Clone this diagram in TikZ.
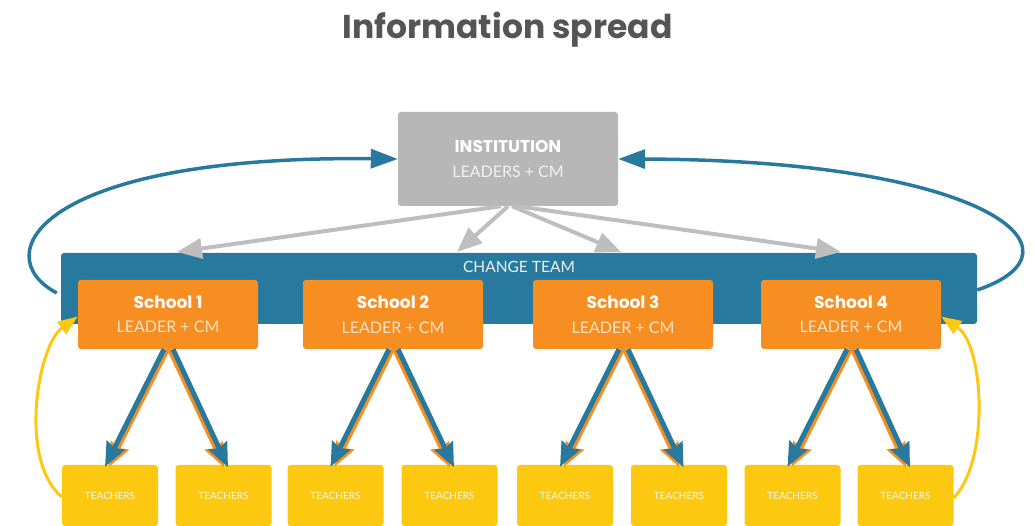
\documentclass[tikz,border=0pt]{standalone}
\usepackage{fontspec}
\setmainfont{Lato}
\newfontfamily\poppins{Poppins}
\usetikzlibrary{arrows.meta}
\definecolor{teamblue}{HTML}{28799E}
\definecolor{schoolorange}{HTML}{F68E22}
\definecolor{instgray}{HTML}{B7B7B7}
\definecolor{arrowgray}{HTML}{BEBEBE}
\definecolor{teachyellow}{HTML}{FDC810}
\definecolor{titlegray}{HTML}{555555}
\tikzset{
    box/.style={rounded corners=3pt, inner sep=0pt, align=center}, % 所有方框的通用样式
    inst/.style={box, fill=instgray, minimum width=220pt, minimum height=94pt, font=\fontsize{16}{25}\selectfont},
    school/.style={box, fill=schoolorange, minimum width=180pt, minimum height=69pt, font=\fontsize{16}{24.5}\selectfont},
    teacher/.style={box, fill=teachyellow, minimum width=96pt, minimum height=61pt, font=\fontsize{10}{12}\selectfont, text=white!88!teachyellow},
    spread/.style={line width=4pt, arrowgray, -{Triangle[length=25pt,width=20pt]}}, % 灰色箭头
    down blue/.style={line width=5pt, teamblue, -{Stealth[length=24pt,width=20pt,inset=3pt]}},
    down orange/.style={line width=4pt, schoolorange, -{Stealth[length=24pt,width=20pt,inset=3pt]}},
    loop blue/.style={line width=3.5pt, teamblue, -{Triangle[length=27pt,width=19pt]}}, % 回路箭头
    loop yellow/.style={line width=3pt, teachyellow, -{Triangle[length=20pt,width=15pt]}}
}
\newcommand\boldline[1]{{\poppins\bfseries\fontsize{17}{24}\selectfont\color{white}#1}}
\begin{document}
\begin{tikzpicture}[x=1pt, y=-1pt]
    \def\W{1034} \def\H{526}
    \useasboundingbox (0,0) rectangle (\W,\H);
    \clip (0,0) rectangle (\W,\H);

    \node[anchor=base, font=\poppins\bfseries\fontsize{33}{40}\selectfont, text=titlegray] (title) at (507.5,39) {Information spread};

    \node[inst] (inst) at (508,159) {\boldline{INSTITUTION}\\\color{white!80!instgray}LEADERS + CM};

    \node[box, fill=teamblue, minimum width=916pt, minimum height=71pt] (team) at (519,288.5) {};
    \node[anchor=base, font=\fontsize{15.5}{18}\selectfont, text=white!90!teamblue] (teamname) at (519,273) {CHANGE TEAM};

    \foreach \x [count=\i] in {168,393,623,851} {
        \node[school] (s\i) at (\x,314.5) {\boldline{School \i}\\\color{white!75!schoolorange}LEADER + CM};
    }
    \foreach \x [count=\i] in {110,223.5,335.5,449.5,565,679,792.5,905.5} {\node[teacher] (t\i) at (\x,495.5) {TEACHERS};}

    \foreach \x [count=\i] in {177,457,621,841} {\coordinate (g\i) at (\x,252);}
    \foreach \s [count=\i] in {-7,0,4,9} {\draw[spread] ([xshift=\s pt]inst.south) -- (g\i);}

    \foreach \i in {1,...,4} {
        \pgfmathtruncatemacro\l{2*\i-1}
        \pgfmathtruncatemacro\r{2*\i}
        \draw[down orange] ([xshift=0pt]s\i.south) -- ([xshift=-1pt,yshift=-2pt]t\l.north);
        \draw[down orange] ([xshift=1pt]s\i.south) -- ([xshift=0.5pt,yshift=-2.5pt]t\r.north);
        \draw[down blue] ([xshift=-4pt]s\i.south) -- ([xshift=-5pt,yshift=-2pt]t\l.north);
        \draw[down blue] ([xshift=5pt]s\i.south) -- ([xshift=4.5pt,yshift=-2.5pt]t\r.north);
    }

    \draw[loop blue] ([xshift=-4pt,yshift=-4.5pt]team.west) .. controls (-15,255) and (40,155) .. (inst.west);
    \draw[loop blue] ([yshift=-1.5pt]team.east) .. controls (1095,250) and (985,160) .. (inst.east);

    \draw[loop yellow] ([yshift=-1.5pt]t1.west) .. controls (18,460) and (38,345) .. ([yshift=-2pt]s1.west);
    \draw[loop yellow] ([yshift=-2.5pt]t8.east) .. controls (990,460) and (984,345) .. ([yshift=-2pt]s4.east);
\end{tikzpicture}
\end{document}
